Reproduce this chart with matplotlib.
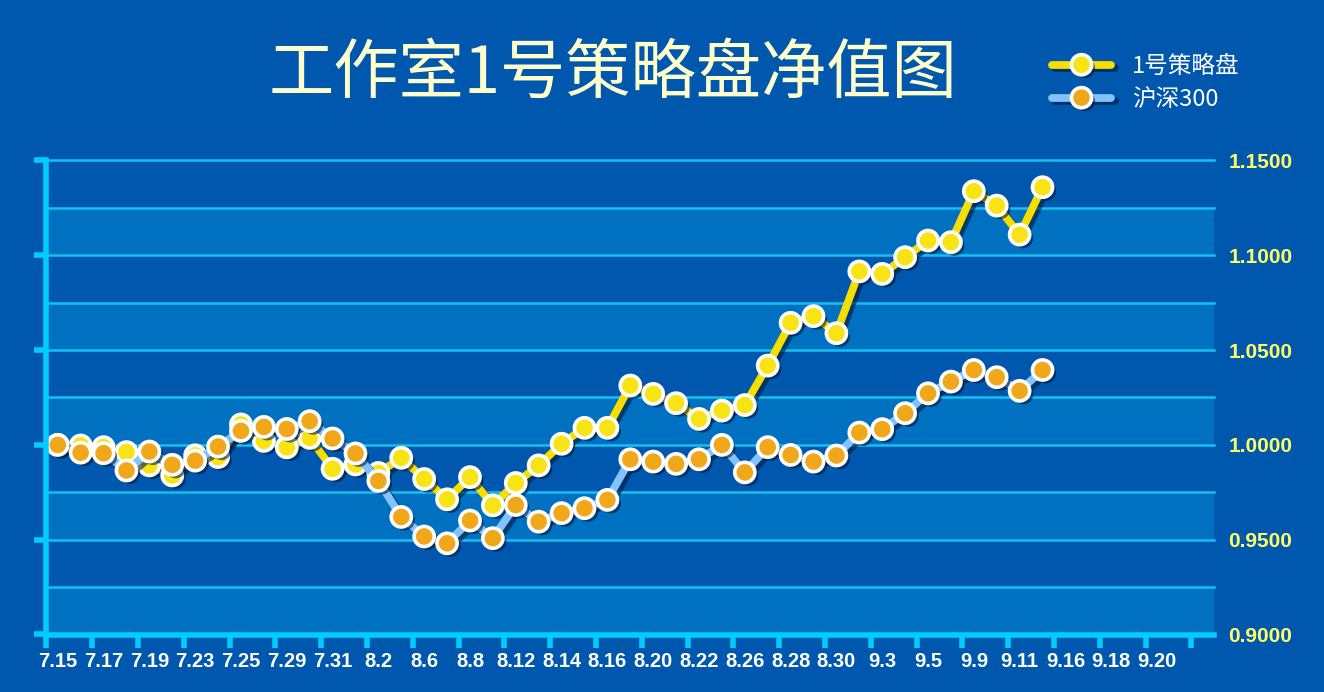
import matplotlib

matplotlib.use("Agg")
import matplotlib.pyplot as plt
import matplotlib.patheffects as pe
from matplotlib.legend_handler import HandlerTuple
from matplotlib.ticker import FormatStrFormatter
import numpy as np

# trading days, 2019; labels are shown on every other one
DATES = [
    "7.15", "7.16", "7.17", "7.18", "7.19", "7.22", "7.23", "7.24", "7.25", "7.26",
    "7.29", "7.30", "7.31", "8.1", "8.2", "8.5", "8.6", "8.7", "8.8", "8.9",
    "8.12", "8.13", "8.14", "8.15", "8.16", "8.19", "8.20", "8.21", "8.22", "8.23",
    "8.26", "8.27", "8.28", "8.29", "8.30", "9.2", "9.3", "9.4", "9.5", "9.6",
    "9.9", "9.10", "9.11", "9.12", "9.16", "9.17", "9.18", "9.19", "9.20", "9.23",
]
FUND = [
    1.0000, 0.9997, 0.9988, 0.9962, 0.9892, 0.9839, 0.9945, 0.9936, 1.0108, 1.0021,
    0.9987, 1.0037, 0.9874, 0.9897, 0.9852, 0.9932, 0.9820, 0.9713, 0.9830, 0.9681,
    0.9799, 0.9892, 1.0006, 1.0090, 1.0090, 1.0313, 1.0269, 1.0220, 1.0137, 1.0181,
    1.0210, 1.0418, 1.0644, 1.0679, 1.0589, 1.0915, 1.0902, 1.0990, 1.1078, 1.1069,
    1.1338, 1.1262, 1.1109, 1.1359,
]
HS300 = [
    1.0000, 0.9959, 0.9956, 0.9865, 0.9965, 0.9895, 0.9917, 0.9991, 1.0074, 1.0095,
    1.0084, 1.0125, 1.0034, 0.9955, 0.9810, 0.9620, 0.9517, 0.9481, 0.9601, 0.9508,
    0.9683, 0.9595, 0.9640, 0.9666, 0.9710, 0.9924, 0.9912, 0.9900, 0.9924, 1.0000,
    0.9855, 0.9988, 0.9947, 0.9912, 0.9944, 1.0065, 1.0083, 1.0167, 1.0272, 1.0334,
    1.0395, 1.0357, 1.0285, 1.0395,
]
LABELS = ["1号策略盘", "沪深300"]
Y_MAJOR = [0.90, 0.95, 1.00, 1.05, 1.10, 1.15]
Y_STEP = 0.025

BG = "#0058AE"
BAND = "#0070C0"
CYAN = "#00CCFF"
GRID = "#14C0F2"
SHADOW = "#00193a"
CJK = ["Noto Sans CJK SC", "DejaVu Sans"]
W, H = 1324, 692

fig = plt.figure(figsize=(W / 100, H / 100), dpi=100, facecolor=BG)
ax = fig.add_axes([46.3 / W, 57.5 / H, 1168 / W, 474 / H])
ax.set_facecolor(BG)

# alternating horizontal bands
for lo in Y_MAJOR[:-1]:
    ax.axhspan(lo, lo + Y_STEP, color=BAND, lw=0, zorder=0)

x = np.arange(len(FUND))
line_fx = [pe.SimpleLineShadow(offset=(2.5, -2.5), shadow_color=SHADOW, alpha=0.6), pe.Normal()]
mark_fx = [pe.SimplePatchShadow(offset=(2.5, -2.5), shadow_rgbFace=SHADOW, alpha=0.6), pe.Normal()]

yl, = ax.plot(x, FUND, color="#F8DE00", lw=5.6, solid_capstyle="round",
              solid_joinstyle="round", path_effects=line_fx, zorder=3)
ym, = ax.plot(x, FUND, ls="none", marker="o", ms=14.5, mfc="#F8E414", mec="white",
              mew=2.6, path_effects=mark_fx, zorder=4)
bl, = ax.plot(x, HS300, color="#82C2FF", lw=5.6, solid_capstyle="round",
              solid_joinstyle="round", path_effects=line_fx, zorder=5)
bm, = ax.plot(x, HS300, ls="none", marker="o", ms=14.5, mfc="#F0A81A", mec="white",
              mew=2.6, path_effects=mark_fx, zorder=6)

ax.set_xlim(-0.5, len(DATES) + 0.5)
ax.set_ylim(Y_MAJOR[0], Y_MAJOR[-1])

# y: ticks on the left, labels on the right
ax.set_yticks(Y_MAJOR)
ax.set_yticks(np.arange(Y_MAJOR[0] + Y_STEP, Y_MAJOR[-1], Y_STEP * 2), minor=True)
ax.yaxis.set_major_formatter(FormatStrFormatter("%.4f"))
ax.tick_params(axis="y", which="major", left=True, right=False, labelleft=False,
               labelright=True, length=9, width=4, color=CYAN, pad=1.2,
               labelsize=15, labelcolor="#FFFF6A")
ax.tick_params(axis="y", which="minor", left=False, right=False, length=0)
ax.grid(axis="y", which="both", color=GRID, lw=1.8)
for t in ax.yaxis.get_major_ticks() + ax.yaxis.get_minor_ticks():
    t.gridline.set_clip_on(False)

# x: tick marks between every other category, labels on the category centres
ax.set_xticks(np.arange(-0.5, len(DATES), 2))
ax.set_xticks(np.arange(0, len(DATES), 2), labels=DATES[::2], minor=True)
ax.tick_params(axis="x", which="major", labelbottom=False, length=9, width=4, color=CYAN)
ax.tick_params(axis="x", which="minor", length=0, pad=12.5, labelsize=14.5, labelcolor="white")

plt.setp(ax.get_yticklabels() + ax.get_xticklabels(minor=True),
         fontweight="bold", family="Liberation Sans")

for side in ("top", "right"):
    ax.spines[side].set_visible(False)
for side in ("left", "bottom"):
    ax.spines[side].set_color(CYAN)
    ax.spines[side].set_linewidth(4)
    ax.spines[side].set_zorder(7)

fig.text(613 / W, 1 - 75 / H, "工作室1号策略盘净值图", ha="center", va="center",
         fontsize=47, color="#FFFFCC", family=CJK)

fig.legend(handles=[(yl, ym), (bl, bm)], labels=LABELS, loc="upper left",
           bbox_to_anchor=(1052 / W, 1 - 55 / H), frameon=False, numpoints=1,
           handlelength=2.5, handletextpad=0.9, labelspacing=0.42, borderpad=0,
           borderaxespad=0, labelcolor="white", prop=dict(family=CJK, size=17),
           handler_map={tuple: HandlerTuple(ndivide=1)})

fig.savefig("out.png", dpi=100, facecolor=BG)
